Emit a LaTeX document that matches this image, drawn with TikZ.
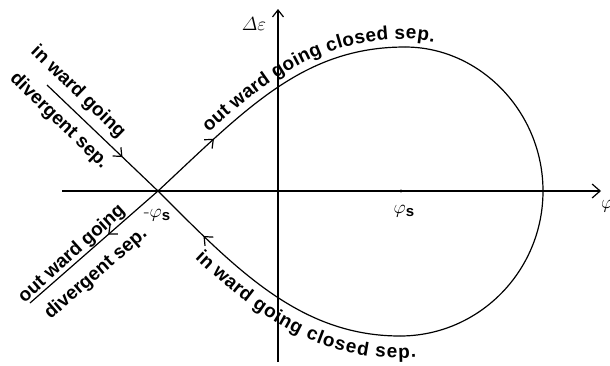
\RequirePackage{fix-cm}
\documentclass[tikz,border=0pt]{standalone}
\usepackage{amsmath}
\usepackage{fontspec}
\newfontfamily\labfont{Liberation Sans}
\usetikzlibrary{arrows.meta,decorations.markings,decorations.text}
\newcommand{\labfmt}{\labfont\bfseries\fontsize{19}{21}\selectfont}
\newcommand{\subs}{\raisebox{-3pt}{\labfont\bfseries\fontsize{15}{16}\selectfont s}}
\begin{document}
\begin{tikzpicture}[x=1pt,y=-1pt,
  curve/.style={line width=1.2pt},
  axis/.style={line width=1.2pt},
  lab/.style={font=\labfmt, inner sep=0pt},
  mathlab/.style={font=\fontsize{19}{21}\selectfont, inner sep=0pt},
  mybarb/.tip={Straight Barb[length=7pt,width=12pt,line width=1.2pt]},
  midarrow/.style={postaction={decorate},decoration={markings,mark=at position #1 with {\arrow{mybarb}}}},
  midarrowrev/.style={postaction={decorate},decoration={markings,mark=at position #1 with {\arrowreversed{mybarb}}}}
]
\useasboundingbox (0,0) rectangle (610,365);

% axes
\coordinate (xs) at (62,191);
\coordinate (xe) at (601,191);
\coordinate (ys) at (278,362);
\coordinate (ye) at (278,9);
\draw[axis,-{Straight Barb[length=8pt,width=14pt,line width=1.2pt]}] (xs) -- (xe);
\draw[axis,-{Straight Barb[length=7pt,width=11pt,line width=1.2pt]}] (ys) -- (ye);

% key points
\coordinate (S) at (158,191);
\coordinate (T) at (405,47);
\coordinate (R) at (543,191);
\coordinate (B) at (400,336);
\coordinate (P) at (401,191);
\coordinate (D1) at (47,85);
\coordinate (D2) at (30,303);

% separatrices
\draw[curve,midarrow=0.26] (S) .. controls (246,109) and (303,47) .. (T);
\draw[curve] (T) .. controls (480,47) and (543,112) .. (R) .. controls (543,271) and (479,336) .. (B);
\draw[curve,midarrowrev=0.22] (S) .. controls (236,269) and (300,336) .. (B);
\draw[curve,midarrow=0.68] (D1) -- (S);
\draw[curve,midarrow=0.39] (S) -- (D2);

\fill (P) circle (1.6pt);

% curved labels
\path[decorate,decoration={text along path,
   text={|\labfmt|out ward going closed sep.},
   text align={left indent=77pt}, raise=8pt}]
   (S) .. controls (246,109) and (303,47) .. (T) .. controls (480,47) and (543,112) .. (R);
\path[decorate,decoration={text along path,
   text={|\labfmt|in ward going closed sep.},
   text align={left indent=73pt}, raise=-22pt}]
   (S) .. controls (236,269) and (300,336) .. (B) .. controls (479,336) and (543,271) .. (R);

% straight labels
\node[lab,rotate=-44] (l1) at (78,92) {in ward going};
\node[lab,rotate=-44] (l2) at (59,121) {divergent sep.};
\node[lab,rotate=42] (l3) at (72,254) {out ward going};
\node[lab,rotate=41] (l4) at (96,274) {divergent sep.};

% math labels
\node[mathlab] (de) at (254,24) {$\varDelta\varepsilon$};
\node[mathlab] (pl) at (404,211) {$\varphi$\subs};
\node[mathlab] (ml) at (157,215) {-$\varphi$\subs};
\node[mathlab,anchor=west] (ph) at (601,206) {$\varphi$};
\end{tikzpicture}
\end{document}
